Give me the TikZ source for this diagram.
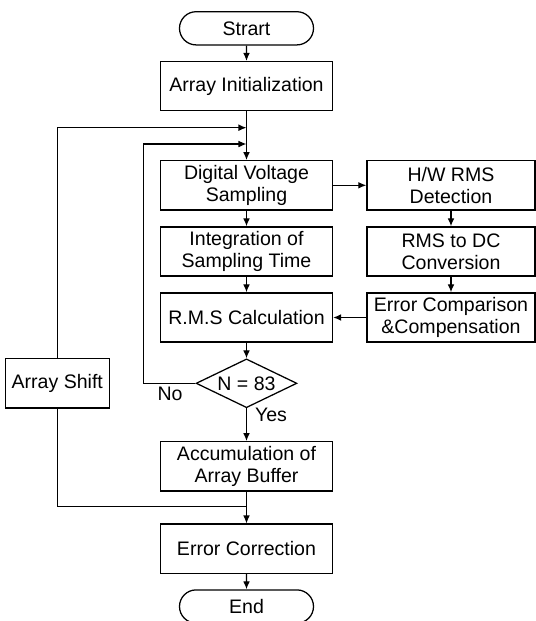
\documentclass[tikz,border=0pt]{standalone}
\usepackage{fontspec}
\setmainfont{Liberation Sans}
\usetikzlibrary{arrows.meta,shapes.geometric,shapes.misc}
\tikzset{
  stepbox/.style={draw,minimum width=4.3cm,minimum height=1.23cm,align=center,inner sep=1pt},
  sidebox/.style={stepbox,minimum width=4.2cm},
  terminal/.style={draw,rounded rectangle,minimum width=3.42cm,minimum height=0.83cm,inner sep=1pt},
  decision/.style={draw,diamond,aspect=2,minimum width=2.52cm,minimum height=1.22cm,inner sep=0pt}
}
\begin{document}
\begin{tikzpicture}[x=0.025cm,y=-0.025cm,>={Latex[length=2mm,width=1.7mm]},line width=0.9pt,
  font=\fontsize{13.9}{15.9}\selectfont]
\useasboundingbox (0,0) rectangle (536,621);
\def\mx{246.5}
\def\sx{451}
\def\lx{57.3}
\def\ix{143.3}
\node[terminal] (start) at (\mx,28.3) {Strart};
\node[stepbox] (init) at (\mx,86.2) {Array Initialization};
\node[stepbox] (dv) at (\mx,185.3) {Digital Voltage\\Sampling};
\node[stepbox] (integ) at (\mx,251.5) {Integration of\\Sampling Time};
\node[stepbox] (rms) at (\mx,317.5) {R.M.S Calculation};
\node[decision] (check) at (\mx,383.3) {N = 83};
\node[stepbox] (accum) at (\mx,466.3) {Accumulation of\\Array Buffer};
\node[stepbox] (errcorr) at (\mx,548.7) {Error Correction};
\node[terminal] (end) at (\mx,606.5) {End};
\node[sidebox] (hw) at (\sx,185.3) {H/W RMS\\Detection};
\node[sidebox] (rmsdc) at (\sx,251.5) {RMS to DC\\Conversion};
\node[sidebox] (errcomp) at (\sx,317.5) {Error Comparison\\\&Compensation};
\node[stepbox,minimum width=2.6cm] (shift) at (\lx,383.3) {Array Shift};
\node (no) at (170,394) {No};
\node (yes) at (271,415) {Yes};

\coordinate (outerin) at (\mx,127.7);
\coordinate (innerin) at (\mx,144);
\coordinate (merge) at (\mx,506.7);

\draw[->] (start) -- (init);
\draw[->] (init) -- (dv);
\draw[->] (dv) -- (integ);
\draw[->] (integ) -- (rms);
\draw[->] (rms) -- (check);
\draw[->] (check) -- (accum);
\draw[->] (accum) -- (errcorr);
\draw[->] (errcorr) -- (end);
\draw[->] (dv) -- (hw);
\draw[->] (hw) -- (rmsdc);
\draw[->] (rmsdc) -- (errcomp);
\draw[->] (errcomp) -- (rms);
\draw[->] (check.west) -- (\ix,383.3) |- (innerin);
\draw[->] (shift.north) |- (outerin);
\draw (shift.south) |- (merge);
\end{tikzpicture}
\end{document}
